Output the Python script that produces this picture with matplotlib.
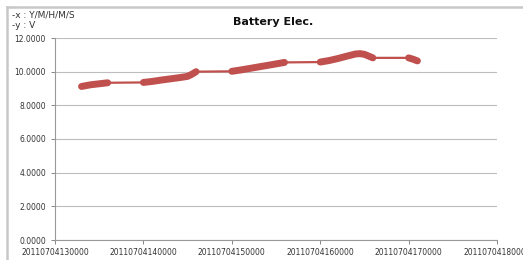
import matplotlib.pyplot as plt
from matplotlib.ticker import FuncFormatter

# time is coded as YYYYMMDDHHMMSS numbers, so each hour leaves a gap after xx5959
seg_times = [
    [20110704133000, 20110704134000, 20110704135000, 20110704135959],
    [20110704140000, 20110704141000, 20110704142000, 20110704143000,
     20110704144000, 20110704145000, 20110704145500, 20110704145959],
    [20110704150000, 20110704151000, 20110704152000, 20110704153000,
     20110704154000, 20110704155000, 20110704155959],
    [20110704160000, 20110704161000, 20110704162000, 20110704163000,
     20110704164000, 20110704164500, 20110704165000, 20110704165959],
    [20110704170000, 20110704170500, 20110704171000],
]
seg_volts = [
    [9.12, 9.22, 9.28, 9.34],
    [9.36, 9.42, 9.50, 9.57, 9.64, 9.72, 9.85, 10.00],
    [10.02, 10.10, 10.19, 10.28, 10.37, 10.46, 10.55],
    [10.57, 10.66, 10.78, 10.92, 11.05, 11.07, 11.03, 10.82],
    [10.82, 10.74, 10.64],
]
x_ticks = [20110704130000, 20110704140000, 20110704150000,
           20110704160000, 20110704170000, 20110704180000]
y_ticks = [0, 2, 4, 6, 8, 10, 12]

red = '#C0504D'

fig = plt.figure(figsize=(5.23, 2.6), dpi=100)
ax = fig.add_axes([55/523, 1-240/260, (497-55)/523, (240-38)/260])

all_t = [t for s in seg_times for t in s]
all_v = [v for s in seg_volts for v in s]
ax.plot(all_t, all_v, color=red, lw=1.6, zorder=3)
for t, v in zip(seg_times, seg_volts):
    ax.plot(t, v, color=red, lw=5, solid_capstyle='round', zorder=4)

ax.set_xlim(x_ticks[0], x_ticks[-1])
ax.set_ylim(0, 12)
ax.set_xticks(x_ticks)
ax.set_yticks(y_ticks)
ax.xaxis.set_major_formatter(FuncFormatter(lambda v, p: '%d' % round(v)))
ax.yaxis.set_major_formatter(FuncFormatter(lambda v, p: '%.4f' % v))
ax.tick_params(labelsize=5.5, colors='#888888', labelcolor='#333333', length=3, width=0.7)
ax.tick_params(axis='x', pad=3)
ax.grid(axis='y', color='#bdbdbd', lw=0.8)
ax.set_axisbelow(True)
for s in ['top', 'right']:
    ax.spines[s].set_visible(False)
for s in ['left', 'bottom']:
    ax.spines[s].set_color('#999999')
    ax.spines[s].set_linewidth(0.8)

fig.text(273/523, 1-22/260, 'Battery Elec.', ha='center', va='center',
         fontsize=8, fontweight='bold', color='#111111')
fig.text(12/523, 1-15/260, '-x : Y/M/H/M/S', ha='left', va='center',
         fontsize=6.5, color='#333333')
fig.text(12/523, 1-25/260, '-y : V', ha='left', va='center',
         fontsize=6.5, color='#333333')

# outer chart frame (left and top edges visible)
fig.add_artist(plt.Line2D([7/523, 7/523], [0, 1-7/260], transform=fig.transFigure,
                          color='#c8c8c8', lw=1.8))
fig.add_artist(plt.Line2D([7/523, 1], [1-7/260, 1-7/260], transform=fig.transFigure,
                          color='#c8c8c8', lw=1.8))

fig.savefig('out.png', dpi=100)
